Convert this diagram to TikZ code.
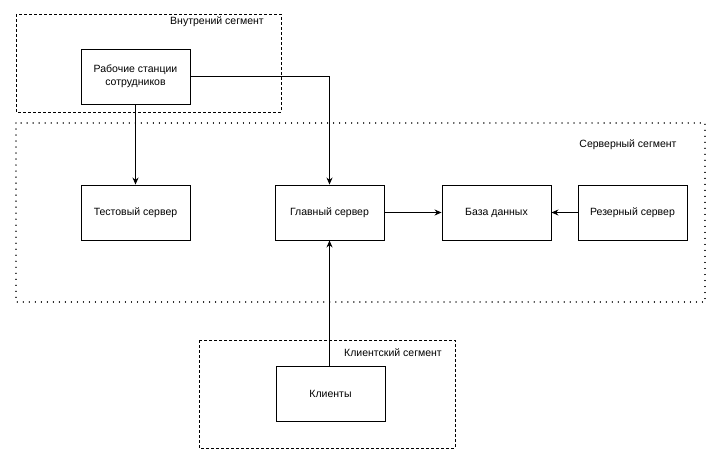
\documentclass[tikz,border=0pt]{standalone}
\usepackage{fontspec}
\setmainfont{Liberation Sans}
\usetikzlibrary{arrows.meta}
\tikzset{
  box/.style={draw, line width=0.9pt, minimum width=109pt, minimum height=55pt,
    align=center, font=\fontsize{10.5}{13}\selectfont},
  segdash/.style={draw, line width=0.9pt, dash pattern=on 3pt off 2pt},
  segdot/.style={draw, line width=1.3pt, dash pattern=on 0.01pt off 6pt, line cap=round},
  seglabel/.style={font=\fontsize{10.5}{13}\selectfont, anchor=center},
  conn/.style={line width=0.9pt, -{Stealth[length=7pt,width=6pt]}}}

\begin{document}
\begin{tikzpicture}[x=1pt, y=-1pt]
  \useasboundingbox (0,0) rectangle (727,460);
  % segments
  \draw[segdash] (16,14) rectangle (281,112);
  \node[seglabel] (inner) at (217,22) {Внутрений сегмент};
  \draw[segdot] (16,123) rectangle (705,302);
  \node[seglabel] (srvseg) at (628,145) {Серверный сегмент};
  \draw[segdash] (199,340) rectangle (455,448);
  \node[seglabel] (clseg) at (393,353) {Клиентский сегмент};

  % nodes
  \node[box] (ws)   at (135.5,76.5)  {Рабочие станции\\сотрудников};
  \node[box] (test) at (135.5,212.5) {Тестовый сервер};
  \node[box] (main) at (329.5,212.5) {Главный сервер};
  \node[box] (db)   at (496.5,212.5) {База данных};
  \node[box] (res)  at (632.5,212.5) {Резерный сервер};
  \node[box] (cli)  at (330.5,393.5) {Клиенты};

  % connectors
  \draw[conn] (ws) -- (test);
  \draw[conn] (ws.east) -| (main.north);
  \draw[conn] (cli.north -| main.south) -- (main.south);
  \draw[conn] (main) -- (db);
  \draw[conn] (res) -- (db);
\end{tikzpicture}
\end{document}
